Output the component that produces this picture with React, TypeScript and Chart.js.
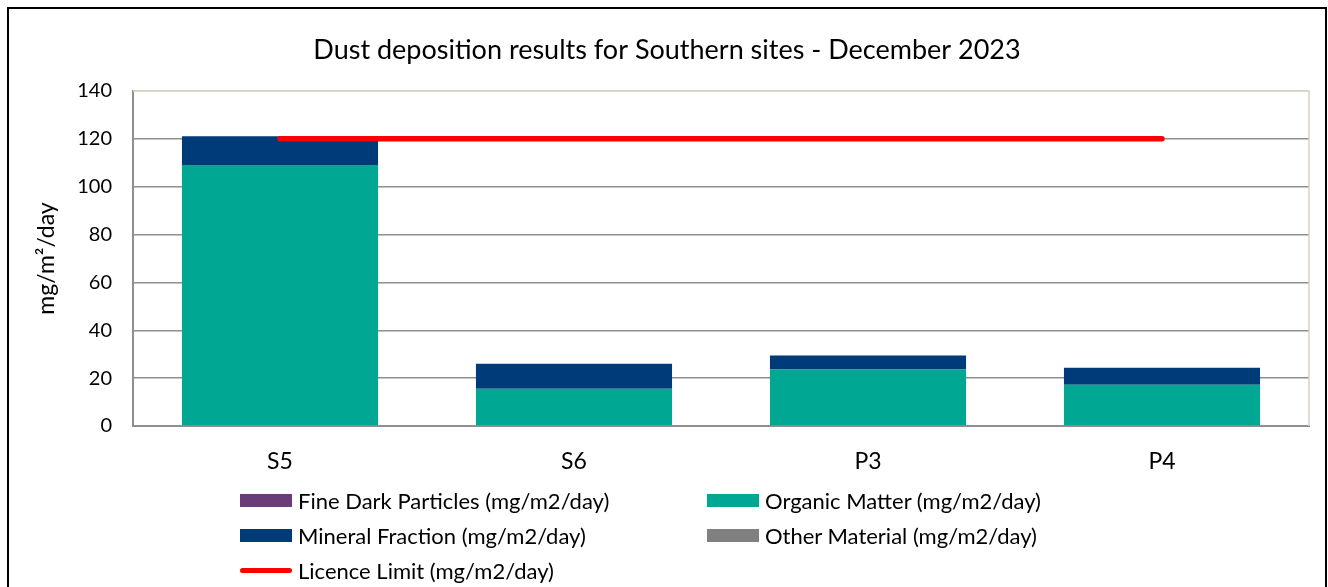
import React, { useEffect, useRef } from "react";
import { Chart, registerables } from "chart.js";

Chart.register(...registerables);

const chartTitle = "Dust deposition results for Southern sites - December 2023";
const yAxisTitle = "mg/m\u00B2/day";
const categories = ["S5", "S6", "P3", "P4"];
const fineDarkParticles = [0, 0, 0, 0];
const organicMatter = [109.1, 15.6, 23.6, 17.2];
const mineralFraction = [12.0, 10.4, 5.9, 7.1];
const otherMaterial = [0, 0, 0, 0];
const licenceLimit = [120, 120, 120, 120];
const yMin = 0;
const yMax = 140;
const yStep = 20;

const seriesLabels = [
  "Fine Dark Particles (mg/m2/day)",
  "Organic Matter (mg/m2/day)",
  "Mineral Fraction (mg/m2/day)",
  "Other Material (mg/m2/day)",
  "Licence Limit  (mg/m2/day)",
];
const seriesColors = ["#6a3d7a", "#00a893", "#003b79", "#808080", "#ff0000"];

const FONT = "Lato, 'Open Sans', sans-serif";
const BEIGE = "#d8d3c2";
const GRID = "#8f8f8f";

const frameBorder = {
  id: "frameBorder",
  beforeDatasetsDraw(chart: any) {
    const { ctx, chartArea } = chart;
    ctx.save();
    ctx.strokeStyle = BEIGE;
    ctx.lineWidth = 1.5;
    ctx.beginPath();
    ctx.moveTo(chartArea.left, chartArea.top);
    ctx.lineTo(chartArea.right, chartArea.top);
    ctx.lineTo(chartArea.right, chartArea.bottom);
    ctx.stroke();
    ctx.restore();
  },
};

function ChartCanvas() {
  const ref = useRef<HTMLCanvasElement | null>(null);
  useEffect(() => {
    if (!ref.current) return;
    const barData = [fineDarkParticles, organicMatter, mineralFraction, otherMaterial];
    const chart = new Chart(ref.current, {
      type: "bar",
      data: {
        labels: categories,
        datasets: [
          {
            type: "line",
            label: seriesLabels[4],
            data: licenceLimit,
            borderColor: seriesColors[4],
            backgroundColor: seriesColors[4],
            borderWidth: 5.5,
            borderCapStyle: "round",
            pointRadius: 0,
            stack: "limit",
            order: 0,
          } as any,
          ...barData.map((d, i) => ({
            type: "bar",
            label: seriesLabels[i],
            data: d,
            backgroundColor: seriesColors[i],
            borderWidth: 0,
            stack: "dust",
            order: 1,
            categoryPercentage: 0.667,
            barPercentage: 1,
          })),
        ] as any,
      },
      options: {
        animation: false,
        responsive: false,
        maintainAspectRatio: false,
        layout: { padding: { left: 0, right: 0, top: 0, bottom: 0 } },
        plugins: {
          legend: { display: false },
          tooltip: { enabled: false },
          title: {
            display: true,
            text: chartTitle,
            color: "#000",
            font: { family: FONT, size: 27, weight: "normal" },
            padding: { top: 24.8, bottom: 24.8 },
          },
        },
        scales: {
          x: {
            stacked: true,
            offset: true,
            grid: { display: false, drawTicks: false },
            border: { display: true, color: GRID, width: 2 },
            ticks: { color: "#000", font: { family: FONT, size: 23 }, padding: 21.6 },
            afterFit: (s: any) => {
              s.height = 160;
            },
          },
          y: {
            stacked: true,
            min: yMin,
            max: yMax,
            border: { display: true, color: GRID, width: 2 },
            grid: {
              drawTicks: false,
              lineWidth: 1.5,
              color: (c: any) => (c.tick && c.tick.value === yMax ? BEIGE : GRID),
            },
            ticks: {
              stepSize: yStep,
              color: "#000",
              font: { family: FONT, size: 20 },
              padding: 21,
            },
            title: {
              display: true,
              text: yAxisTitle,
              color: "#000",
              font: { family: FONT, size: 23 },
              padding: { top: 24.2, bottom: 0 },
            },
            afterFit: (s: any) => {
              s.width = 124;
            },
          },
          yRight: {
            position: "right",
            display: true,
            min: yMin,
            max: yMax,
            grid: { display: false, drawTicks: false },
            border: { display: false },
            ticks: { display: false },
            afterFit: (s: any) => {
              s.width = 16;
            },
          },
        },
      } as any,
      plugins: [frameBorder],
    });
    return () => chart.destroy();
  }, []);
  return <canvas ref={ref} width={1316} height={577} style={{ position: "absolute", left: 0, top: 0, width: 1316, height: 577 }} />;
}

const legendItems = [
  { idx: 0, left: 231, top: 474 },
  { idx: 1, left: 698, top: 474 },
  { idx: 2, left: 231, top: 509 },
  { idx: 3, left: 698, top: 509 },
  { idx: 4, left: 231, top: 544 },
];

export default function App() {
  return (
    <div
      style={{
        position: "absolute",
        left: 7,
        top: 7,
        width: 1320,
        height: 582,
        border: "2px solid #000",
        boxSizing: "border-box",
        background: "#fff",
        fontFamily: FONT,
      }}
    >
      <ChartCanvas />
      {legendItems.map((it) => {
        const isLine = it.idx === 4;
        return (
          <div
            key={it.idx}
            style={{
              position: "absolute",
              left: it.left,
              top: it.top,
              height: 34,
              display: "flex",
              alignItems: "center",
              whiteSpace: "nowrap",
              fontSize: 22,
              color: "#000",
            }}
          >
            <span
              style={{
                display: "inline-block",
                width: 52,
                height: isLine ? 5 : 13,
                borderRadius: isLine ? 3 : 0,
                background: seriesColors[it.idx],
                marginRight: 6,
              }}
            />
            <span>{seriesLabels[it.idx]}</span>
          </div>
        );
      })}
    </div>
  );
}
